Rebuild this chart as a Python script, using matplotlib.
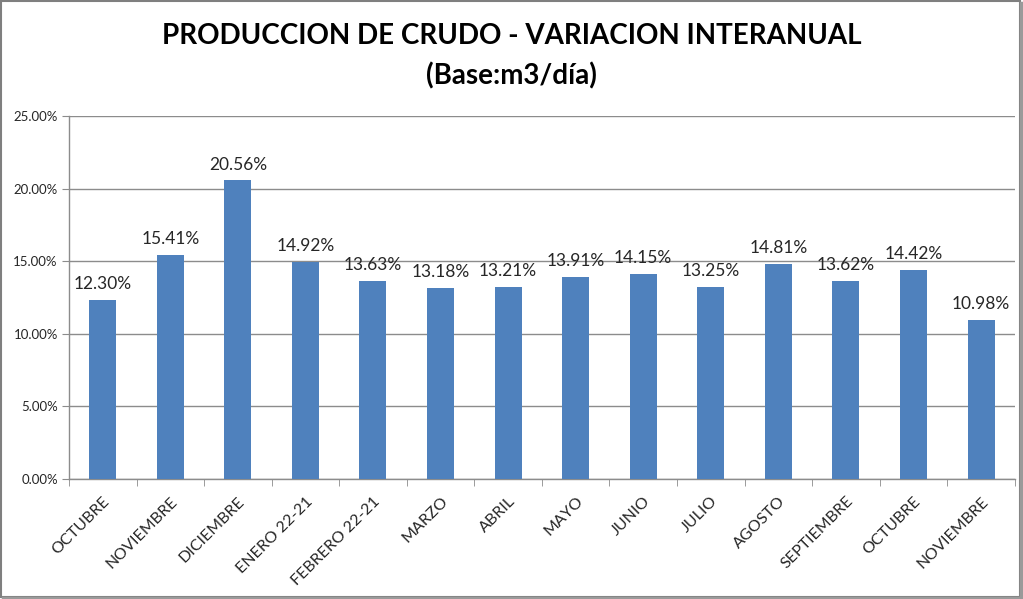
import matplotlib
matplotlib.use("Agg")
import matplotlib.pyplot as plt
from matplotlib.ticker import FuncFormatter, FixedLocator
import numpy as np

categories = ["OCTUBRE", "NOVIEMBRE", "DICIEMBRE", "ENERO 22-21", "FEBRERO 22-21",
              "MARZO", "ABRIL", "MAYO", "JUNIO", "JULIO", "AGOSTO",
              "SEPTIEMBRE", "OCTUBRE", "NOVIEMBRE"]
values = [12.30, 15.41, 20.56, 14.92, 13.63, 13.18, 13.21, 13.91, 14.15,
          13.25, 14.81, 13.62, 14.42, 10.98]
yticks = [0, 5, 10, 15, 20, 25]

plt.rcParams['font.family'] = ['Lato', 'DejaVu Sans']

fig = plt.figure(figsize=(10.23, 5.99), dpi=100)
ax = fig.add_axes([0.0674, 0.2003, 0.9246, 0.606])

x = np.arange(len(categories))
bar_color = "#4F81BD"
ax.bar(x, values, width=0.4, color=bar_color, zorder=3)

for xi, v in zip(x, values):
    ax.text(xi, v + 0.55, f"{v:.2f}%", ha="center", va="bottom", fontsize=12.5, color="#262626")

ax.set_xlim(-0.5, len(categories) - 0.5)
ax.set_ylim(0, 25)
ax.set_yticks(yticks)
ax.yaxis.set_major_formatter(FuncFormatter(lambda v, p: f"{v:.2f}%"))
ax.grid(axis="y", color="#8c8c8c", linewidth=1.0, zorder=0)
ax.tick_params(axis="y", length=5, color="#8c8c8c", labelsize=9.5, labelcolor="#262626", pad=3)

ax.set_xticks(x)
ax.set_xticklabels(categories, rotation=45, ha="right", rotation_mode="anchor", fontsize=11.5, color="#262626")
ax.tick_params(axis="x", length=0, pad=11)
ax.xaxis.set_minor_locator(FixedLocator(np.arange(-0.5, len(categories), 1.0)))
ax.tick_params(axis="x", which="minor", length=5, color="#8c8c8c")

for s in ["top", "right"]:
    ax.spines[s].set_visible(False)
for s in ["left", "bottom"]:
    ax.spines[s].set_color("#8c8c8c")
    ax.spines[s].set_linewidth(1.0)

fig.text(0.5, 0.94, "PRODUCCION DE CRUDO - VARIACION INTERANUAL", ha="center", va="center",
         fontsize=20, fontweight="bold", color="black")
fig.text(0.5, 0.873, "(Base:m3/día)", ha="center", va="center",
         fontsize=20, fontweight="bold", color="black")

border = plt.Rectangle((0.001, 0.004), 0.996, 0.994, transform=fig.transFigure, fill=False,
                       edgecolor="#7f7f7f", linewidth=1.5)
fig.add_artist(border)
fig.add_artist(plt.Line2D([0.998, 0.998], [0.0, 0.995], transform=fig.transFigure, color="#9a9a9a", linewidth=2.5))
fig.add_artist(plt.Line2D([0.003, 1.0], [0.002, 0.002], transform=fig.transFigure, color="#9a9a9a", linewidth=2.5))

fig.savefig("out.png", dpi=100)
